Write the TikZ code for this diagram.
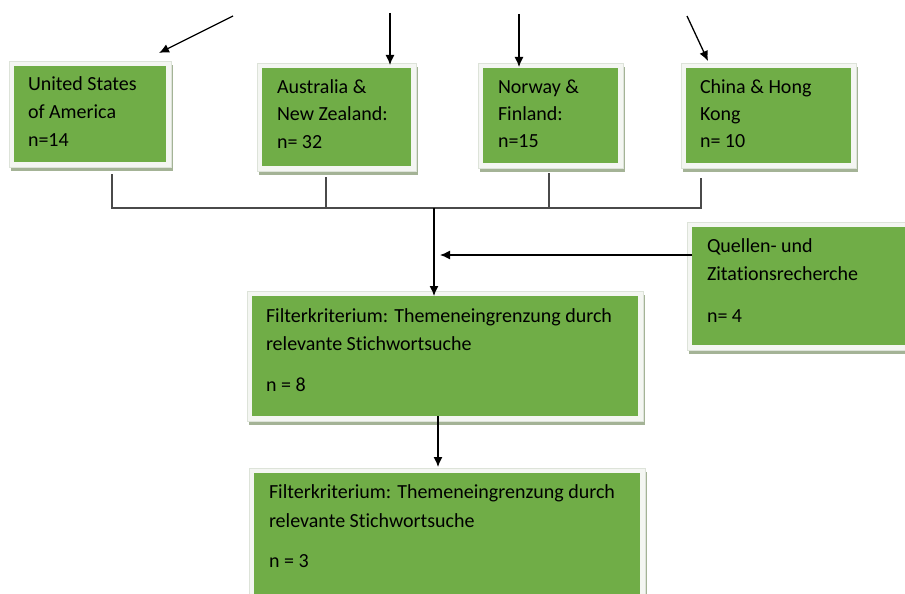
\documentclass[tikz,border=0pt]{standalone}
\usepackage{fontspec}
\setmainfont{Carlito}[Ligatures=NoCommon]
\usetikzlibrary{arrows.meta}
\definecolor{boxgreen}{HTML}{70AD47}
\definecolor{boxrim}{HTML}{F4F6F2}
\definecolor{rimedge}{HTML}{DDE3D9}
\definecolor{boxshadow}{HTML}{A4B396}
\definecolor{linegray}{HTML}{4A4A4A}
\newcommand\gbox[5]{%
  \fill[boxshadow] ({#2-3},{#3-1}) rectangle ({#4+7},{#5+9});
  \filldraw[fill=boxrim, draw=rimedge, line width=0.6pt] ({#2-5},{#3-5}) rectangle ({#4+5},{#5+5});
  \node[gbox, minimum width={#4-#2}, minimum height={#5-#3}] (#1) at ({(#2+#4)/2},{(#3+#5)/2}) {};
}
\newcommand\tline[4]{\node[txt] (#1) at (#2,#3) {#4};}
\tikzset{
  gbox/.style={fill=boxgreen, draw=none, inner sep=0pt, outer sep=0pt},
  txt/.style={anchor=base west, inner sep=0pt, outer sep=0pt, text=black, font=\fontsize{20}{24}\selectfont},
  arr/.style={draw=black, line width=1.3pt, -{Latex[length=10pt,width=9pt]}},
  bus/.style={draw=linegray, line width=1.2pt}
}
\begin{document}
\begin{tikzpicture}[x=1pt,y=-1pt]
\clip (0,0) rectangle (905,594);
\fill[white] (0,0) rectangle (905,594);
% boxes
\gbox{usa}{14}{66}{166}{162}
\gbox{aus}{262}{68}{411}{166}
\gbox{nor}{483}{68}{618}{163}
\gbox{chn}{686}{68}{851}{163}
\gbox{quel}{692}{227}{915}{345}
\gbox{filta}{252}{296}{638}{416}
\gbox{filtb}{254}{473}{640}{610}
% texts
\tline{usa1}{28}{91}{United States}
\tline{usa2}{28}{118}{of America}
\tline{usa3}{28}{146}{n=14}
\tline{aus1}{277}{93}{Australia \&}
\tline{aus2}{277}{120}{New Zealand:}
\tline{aus3}{277}{148}{n= 32}
\tline{nor1}{498}{93}{Norway \&}
\tline{nor2}{498}{120}{Finland:}
\tline{nor3}{498}{147}{n=15}
\tline{chn1}{700}{93}{China \& Hong}
\tline{chn2}{700}{120}{Kong}
\tline{chn3}{700}{147}{n= 10}
\tline{quel1}{707}{252}{Quellen- und}
\tline{quel2}{707}{280}{Zitationsrecherche}
\tline{quel3}{707}{322}{n= 4}
\tline{filta1}{266}{322}{Filterkriterium: Themeneingrenzung durch}
\tline{filta2}{266}{350}{relevante Stichwortsuche}
\tline{filta3}{266}{391}{n = 8}
\tline{filtb1}{269}{498}{Filterkriterium: Themeneingrenzung durch}
\tline{filtb2}{269}{527}{relevante Stichwortsuche}
\tline{filtb3}{269}{567}{n = 3}
% incoming arrows
\coordinate (s1) at (233,16);
\coordinate (s2) at (390,13);
\coordinate (s3) at (519,14);
\coordinate (s4) at (687,16);
\draw[arr] (s1) -- ([xshift=-7pt,yshift=13pt]usa.north east);
\draw[arr] (s2) -- ([yshift=3pt]aus.north -| s2);
\draw[arr] (s3) -- ([yshift=1pt]nor.north -| s3);
\draw[arr] (s4) -- ([yshift=7pt]chn.north -| 708,0);
% bus
\coordinate (bL) at (112,208);
\coordinate (bA) at (326,208);
\coordinate (bM) at (434,208);
\coordinate (bN) at (549,208);
\coordinate (bR) at (701,208);
\draw[bus] ([yshift=-12pt]usa.south -| bL) -- (bL) -- (bR) -- ([yshift=-15pt]chn.south -| bR);
\draw[bus] ([yshift=-11pt]aus.south -| bA) -- (bA);
\draw[bus] ([yshift=-10pt]nor.south -| bN) -- (bN);
\draw[arr] (bM) -- (bM |- filta.north);
% Quellen arrow
\coordinate (qt) at (440,255);
\draw[arr] (quel.west |- qt) -- (qt);
% filter to filter
\coordinate (fx) at (438,0);
\draw[arr] (filta.south -| fx) -- ([yshift=6pt]filtb.north -| fx);
\end{tikzpicture}
\end{document}
